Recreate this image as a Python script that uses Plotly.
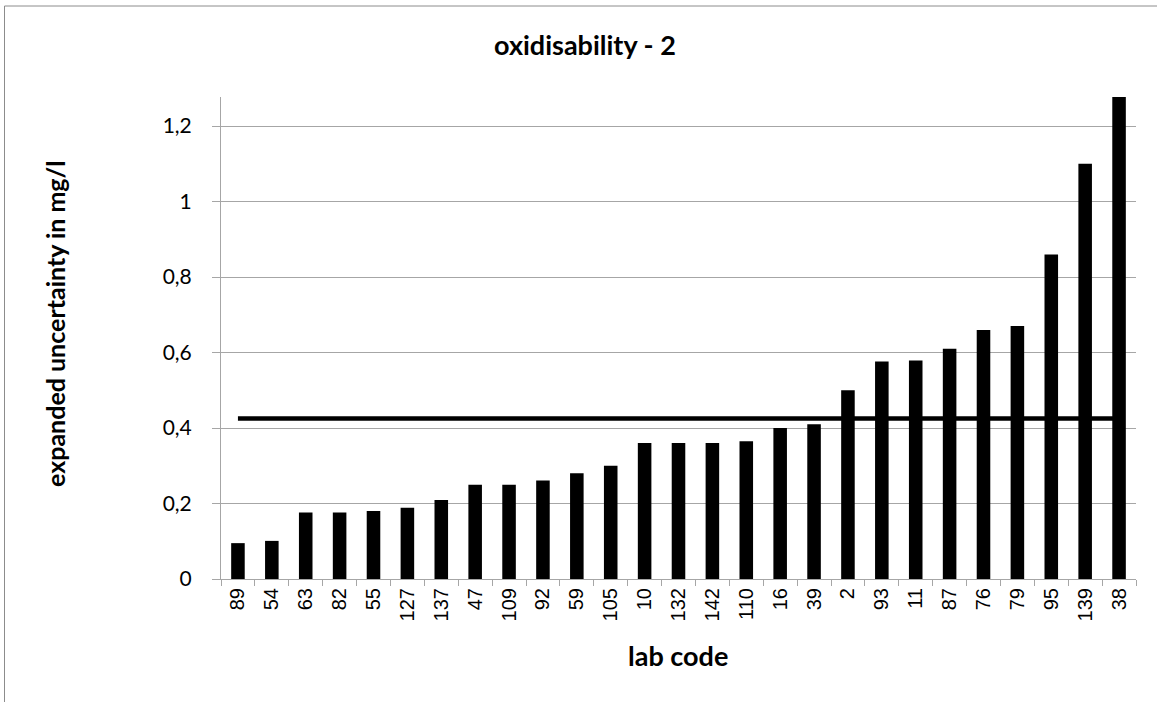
import plotly.graph_objects as go

# ---- data ----
lab_codes = ["89", "54", "63", "82", "55", "127", "137", "47", "109", "92", "59", "105", "10",
             "132", "142", "110", "16", "39", "2", "93", "11", "87", "76", "79", "95", "139", "38"]
uncertainty = [0.095, 0.101, 0.176, 0.176, 0.18, 0.189, 0.209, 0.25, 0.25, 0.261, 0.28, 0.30, 0.36,
               0.36, 0.36, 0.365, 0.40, 0.41, 0.50, 0.576, 0.579, 0.61, 0.66, 0.67, 0.86, 1.10, 1.30]
reference_value = [0.425] * len(lab_codes)
y_tick_vals = [0, 0.2, 0.4, 0.6, 0.8, 1.0, 1.2]
y_tick_text = ["0", "0,2", "0,4", "0,6", "0,8", "1", "1,2"]

W, H = 1157, 702
L, R, T, B = 221, 1136, 97, 579


def px(x):
    return (x - L) / (R - L)


def py(y):
    return (B - y) / (B - T)


fig = go.Figure()
fig.add_trace(go.Bar(x=lab_codes, y=uncertainty, marker=dict(color="black", line=dict(width=0)),
                     showlegend=False, hoverinfo="x+y"))
fig.add_trace(go.Scatter(x=lab_codes, y=reference_value, mode="lines",
                         line=dict(color="black", width=4.5), showlegend=False))

grid = "#a6a6a6"
fig.update_layout(
    width=W, height=H,
    margin=dict(l=L, r=W - R, t=T, b=H - B, pad=0),
    paper_bgcolor="white", plot_bgcolor="white",
    bargap=0.6,
    font=dict(family="Lato, Liberation Sans, Arial", color="black"),
    xaxis=dict(
        type="category", showgrid=False, showline=True, linecolor=grid, linewidth=1,
        ticks="outside", ticklen=6, tickcolor=grid, tickson="boundaries",
        tickangle=-90, tickfont=dict(family="Liberation Sans, Arial", size=20, color="black"),
        range=[-0.5, len(lab_codes) - 0.5],
    ),
    yaxis=dict(
        range=[0, 1.277], tickvals=y_tick_vals, ticktext=y_tick_text,
        showgrid=True, gridcolor=grid, gridwidth=1,
        showline=True, linecolor=grid, linewidth=1,
        ticks="outside", ticklen=8, tickcolor=grid,
        tickfont=dict(family="Lato, Liberation Sans", size=21, color="black"),
        ticklabelstandoff=16, zeroline=False,
    ),
    annotations=[
        dict(text="<b>oxidisability - 2</b>", xref="paper", yref="paper",
             x=px(585), y=py(45), xanchor="center", yanchor="middle", showarrow=False,
             font=dict(family="Lato", size=27, color="black")),
        dict(text="<b>expanded uncertainty in mg/l</b>", xref="paper", yref="paper",
             x=px(55), y=py(324), xanchor="center", yanchor="middle", showarrow=False,
             textangle=-90, font=dict(family="Lato", size=25, color="black")),
        dict(text="<b>lab code</b>", xref="paper", yref="paper",
             x=px(678), y=py(655), xanchor="center", yanchor="middle", showarrow=False,
             font=dict(family="Lato", size=27, color="black")),
    ],
    shapes=[
        dict(type="rect", xref="paper", yref="paper",
             x0=px(4.5), x1=px(1200), y0=py(760), y1=py(6),
             line=dict(color="#8c8c8c", width=1), fillcolor="rgba(0,0,0,0)", layer="below"),
    ],
)

fig.write_html("out.html", config={"displayModeBar": False},
               post_script="document.body.style.margin='0';document.body.style.overflow='hidden';")
